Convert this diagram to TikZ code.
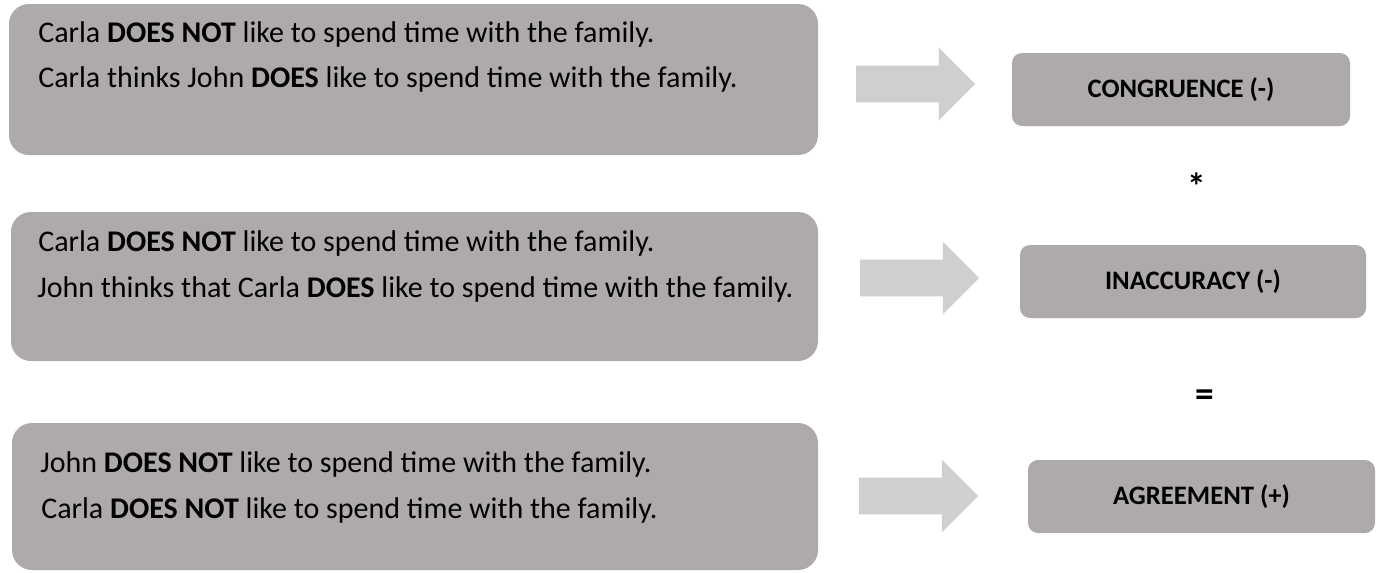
\documentclass[tikz,border=0pt]{standalone}
\usepackage{fontspec}
\setmainfont{Carlito}
\usetikzlibrary{shapes.arrows}
\definecolor{boxgray}{HTML}{AEAAAA}
\definecolor{arrowgray}{HTML}{D0CECE}
\begin{document}
\begin{tikzpicture}[x=0.75pt,y=-0.75pt,
  statebox/.style={fill=boxgray,draw=none,rounded corners=15pt,inner sep=0pt},
  resultbox/.style={fill=boxgray,draw=none,rounded corners=7.5pt,inner sep=0pt,
    minimum height=54.75pt,font=\fontsize{20pt}{24pt}\selectfont\bfseries},
  line/.style={anchor=base west,inner sep=0pt,font=\fontsize{22.5pt}{27pt}\selectfont},
  blockarrow/.style={single arrow,fill=arrowgray,draw=none,inner xsep=0pt,inner ysep=13.5pt,
    minimum height=89.25pt,minimum width=54pt,single arrow head extend=13.5pt},
  sym/.style={inner sep=0pt,font=\fontsize{28pt}{32pt}\selectfont\bfseries}]
\useasboundingbox (0,0) rectangle (1400,572);

% statement boxes
\node[statebox,minimum width=606.75pt,minimum height=113.25pt] (s1) at (413.5,79.5) {};
\node[statebox,minimum width=605.25pt,minimum height=111.75pt] (s2) at (414.5,286.5) {};
\node[statebox,minimum width=604.5pt,minimum height=110.25pt] (s3) at (415,496.5) {};

\node[line] (s1a) at (38,42) {Carla \textbf{DOES NOT} like to spend time with the family.};
\node[line] (s1b) at (38,87) {Carla thinks John \textbf{DOES} like to spend time with the family.};
\node[line] (s2a) at (38,251) {Carla \textbf{DOES NOT} like to spend time with the family.};
\node[line] (s2b) at (37,297) {John thinks that Carla \textbf{DOES} like to spend time with the family.};
\node[line] (s3a) at (40,472) {John \textbf{DOES NOT} like to spend time with the family.};
\node[line] (s3b) at (41,518) {Carla \textbf{DOES NOT} like to spend time with the family.};

% block arrows
\node[blockarrow] (a1) at (906.5,84) {};
\node[blockarrow] (a2) at (910.5,278) {};
\node[blockarrow] (a3) at (909.5,496) {};

% result boxes
\node[resultbox,minimum width=253.5pt] (r1) at (1181,89.5) {CONGRUENCE (-)};
\node[resultbox,minimum width=259.5pt] (r2) at (1193,281.5) {INACCURACY (-)};
\node[resultbox,minimum width=260.25pt] (r3) at (1201.5,496.5) {AGREEMENT (+)};

% operators between results
\node[sym] (times) at (1197,186) {*};
\node[sym] (equals) at (1205,398) {=};
\end{tikzpicture}
\end{document}
